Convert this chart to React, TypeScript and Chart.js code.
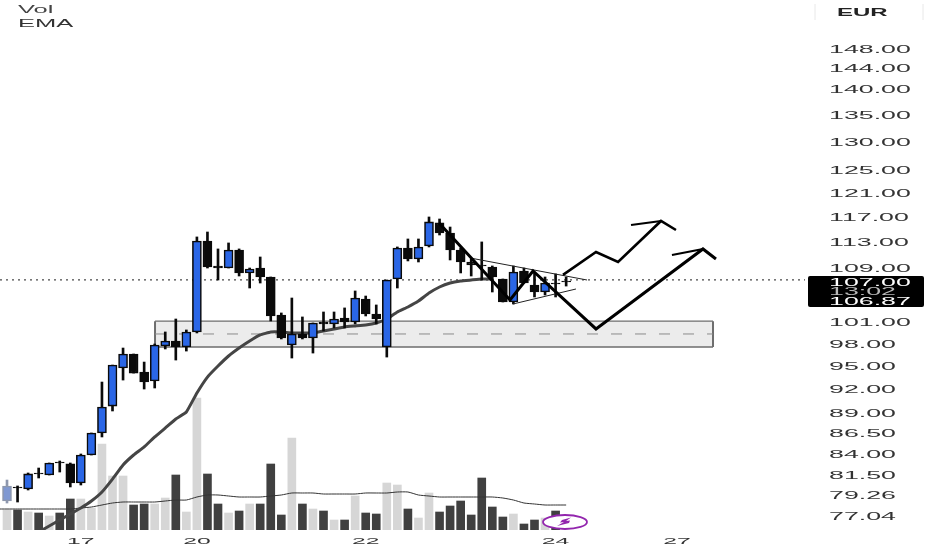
import React, { useEffect, useRef } from "react";
import { Chart, registerables } from "chart.js";

Chart.register(...registerables);

const candleHigh = [80.88,80.21,81.68,82.25,82.83,83.06,82.83,83.88,86.38,92.76,94.99,97.28,96.47,95.39,97.83,99.49,101.31,99.77,113.63,114.42,111.74,112.68,111.74,108.80,110.49,107.44,102.17,104.33,101.60,100.75,102.31,102.31,102.89,105.36,104.62,103.32,106.99,112.05,113.31,113.31,116.85,116.52,115.22,111.89,110.18,112.84,109.11,107.14,109.11,108.80,108.05,107.44,107.90,107.44];
const candleLow = [78.32,78.43,79.76,81.11,81.45,81.79,80.10,80.32,83.76,85.90,89.08,93.02,93.93,91.86,91.99,97.15,95.66,96.87,99.35,108.80,106.99,108.80,107.59,105.80,106.54,101.03,98.52,95.93,98.52,96.60,99.63,100.05,100.05,100.61,101.74,100.61,96.06,105.80,109.88,109.72,112.05,113.94,110.03,108.05,107.59,106.99,105.21,103.75,103.46,106.54,104.48,104.77,104.48,106.09];
const candleOpen = [78.54,80.10,79.87,81.68,81.45,82.95,82.72,80.54,83.76,86.38,89.69,94.60,96.47,94.06,92.89,97.56,98.24,97.42,99.49,112.99,109.11,108.80,111.58,108.05,108.80,107.44,101.88,97.69,99.21,98.66,100.89,100.61,101.45,100.89,104.18,102.02,97.42,107.14,111.89,110.18,112.21,115.88,114.26,111.58,109.72,109.26,108.96,107.14,103.75,108.35,106.24,105.21,106.54,106.84];
const candleClose = [80.21,79.98,81.57,81.57,82.83,82.83,80.54,83.76,86.38,89.57,94.99,96.47,93.93,92.76,97.69,98.24,97.42,99.49,112.99,108.96,108.80,111.58,108.05,108.65,107.44,101.74,98.66,99.21,98.66,100.75,100.61,101.31,100.89,104.33,102.02,101.31,106.99,111.89,110.18,112.05,116.04,114.26,111.58,109.72,109.26,109.11,107.44,103.75,108.20,106.54,105.21,106.54,106.39,106.69];
const volumes = [20,20,18,17,14,17,31,31,22,86,54,54,25,26,26,32,55,18,132,56,26,17,19,26,26,66,15,92,26,21,19,10,10,34,17,16,47,45,21,12,37,18,24,29,15,52,23,13,16,6,10,12,19];
const volumeAverage = [21,21,21,21,21,21,21,22,23,25,27,28,28,28,28,29,30,30,33,35,35,34,33,33,33,34,35,37,37,37,36,36,36,36,37,37,37,38,38,35,34,33,33,33,33,33,33,32,30,27,26,25,25,25];
const emaStart = 3;
const emaValues = [75.2,75.85,76.49,77.13,77.78,78.54,79.54,80.99,82.60,83.76,84.71,85.90,86.98,88.08,88.95,91.35,93.41,94.86,96.20,97.28,98.24,99.07,99.49,99.49,99.35,99.35,99.35,99.63,99.91,100.19,100.33,100.47,100.75,101.31,102.31,103.03,103.89,105.06,105.95,106.54,106.84,106.99,107.14,107.14];

const priceTicks = [148,144,140,135,130,125,121,117,113,109,101,98,95,92,89,86.5,84,81.5,79.26,77.04];
const dayTickPositions = [7,18,34,52,63.5];
const dayTickLabels = ["17","20","22","24","27"];

const lastPrice = 107;
const zoneTop = 101.0;
const zoneBottom = 97.42;
const zoneMid = 99.21;
const zoneFrom = 14.03;
const zoneTo = 66.92;

const pathMainX = [40.95,47.68,49.86,55.83,65.97,67.2];
const pathMainY = [115.88,104.04,108.35,99.91,111.74,110.18];
const pathUpperX = [52.7,55.83,57.92,61.99,63.41];
const pathUpperY = [107.75,111.27,109.72,116.20,114.74];
const headMainX = [63.03,65.97];
const headMainY = [110.80,111.74];
const headUpperX = [59.15,61.99];
const headUpperY = [115.54,116.20];
const wedgeUpperX = [43.89,54.98];
const wedgeUpperY = [110.34,106.99];
const wedgeLowerX = [47.96,53.93];
const wedgeLowerY = [103.46,105.65];

const xMin = -0.664;
const xMax = 75.64;
const priceMin = 75.42;
const priceMax = 158.28;
const volumeMax = 530;

const BLUE = "#2a66e6";
const INK = "#0a0a0a";

function stretchedLabels(scale: any, sx: number, dy: number) {
  return function () {
    const ctx = scale.ctx;
    for (const item of scale.getLabelItems()) {
      const [x, y] = item.options.translation;
      ctx.save();
      ctx.translate(x, y + dy);
      ctx.scale(sx, 1);
      ctx.font = item.font.string;
      ctx.fillStyle = item.options.color;
      ctx.textAlign = item.options.textAlign;
      ctx.textBaseline = item.options.textBaseline;
      ctx.fillText(item.label, 0, item.textOffset);
      ctx.restore();
    }
  };
}

function noPadding(scale: any) {
  scale.paddingLeft = 0;
  scale.paddingRight = 0;
  scale.paddingTop = 0;
  scale.paddingBottom = 0;
}

function wideText(ctx: CanvasRenderingContext2D, text: string, x: number, y: number, sx: number, font: string, color: string) {
  ctx.save();
  ctx.translate(x, y);
  ctx.scale(sx, 1);
  ctx.font = font;
  ctx.fillStyle = color;
  ctx.textAlign = "left";
  ctx.textBaseline = "middle";
  ctx.fillText(text, 0, 0);
  ctx.restore();
}

const pairs = (xs: number[], ys: number[]) => xs.map((x, i) => ({ x, y: ys[i] }));

const overlays = {
  id: "overlays",
  beforeDatasetsDraw(chart: any) {
    const { ctx, scales } = chart;
    const x0 = scales.x.getPixelForValue(zoneFrom);
    const x1 = scales.x.getPixelForValue(zoneTo);
    const y0 = scales.y.getPixelForValue(zoneTop);
    const y1 = scales.y.getPixelForValue(zoneBottom);
    ctx.save();
    ctx.fillStyle = "#ececec";
    ctx.fillRect(x0, y0, x1 - x0, y1 - y0);
    ctx.strokeStyle = "#6e6e6e";
    ctx.lineWidth = 1.3;
    ctx.beginPath();
    ctx.moveTo(x0, y0);
    ctx.lineTo(x1, y0);
    ctx.moveTo(x0, y1);
    ctx.lineTo(x1, y1);
    ctx.stroke();
    ctx.lineWidth = 2;
    ctx.beginPath();
    ctx.moveTo(x0, y0);
    ctx.lineTo(x0, y1);
    ctx.moveTo(x1, y0);
    ctx.lineTo(x1, y1);
    ctx.stroke();
    ctx.restore();
  },
  afterDatasetsDraw(chart: any) {
    const { ctx } = chart;
    ctx.save();
    const labelFont = "10px 'Liberation Sans'";
    wideText(ctx, "Vol", 18, 10.5, 2.55, labelFont, "#444444");
    wideText(ctx, "EMA", 18, 24.5, 2.55, labelFont, "#333333");

    ctx.strokeStyle = "#e8e8e8";
    ctx.lineWidth = 1;
    ctx.beginPath();
    ctx.moveTo(815, 4);
    ctx.lineTo(815, 20);
    ctx.moveTo(923, 4);
    ctx.lineTo(923, 20);
    ctx.stroke();
    wideText(ctx, "EUR", 837, 13, 2.4, "bold 10px 'Liberation Sans'", "#222222");

    ctx.fillStyle = "#000000";
    ctx.beginPath();
    ctx.roundRect(808, 276, 116, 31, 2);
    ctx.fill();
    const boxFont = "10.5px 'Liberation Sans'";
    wideText(ctx, "107.00", 829, 283, 2.55, boxFont, "#ffffff");
    wideText(ctx, "13:02", 829, 292, 2.55, boxFont, "#b8b8b8");
    wideText(ctx, "106.87", 829, 302, 2.55, boxFont, "#ffffff");

    ctx.fillStyle = "#ffffff";
    ctx.strokeStyle = "#9326ae";
    ctx.lineWidth = 1.8;
    ctx.beginPath();
    ctx.ellipse(565, 522, 22, 7, 0, 0, Math.PI * 2);
    ctx.fill();
    ctx.stroke();
    ctx.fillStyle = "#9326ae";
    ctx.beginPath();
    ctx.moveTo(571, 517.5);
    ctx.lineTo(562, 520);
    ctx.lineTo(560, 522.5);
    ctx.lineTo(564, 522);
    ctx.lineTo(557, 526);
    ctx.lineTo(569, 523);
    ctx.lineTo(570, 520.5);
    ctx.lineTo(566, 521);
    ctx.closePath();
    ctx.fill();
    ctx.restore();
  },
};

export default function App() {
  const ref = useRef<HTMLCanvasElement | null>(null);

  useEffect(() => {
    if (!ref.current) return;
    const indices = candleOpen.map((_, i) => i);
    const isUp = (i: number) => candleClose[i] >= candleOpen[i];
    const lineBase = {
      type: "line" as const,
      xAxisID: "x",
      yAxisID: "y",
      pointRadius: 0,
      tension: 0,
      fill: false,
    };
    const chart = new Chart(ref.current, {
      type: "bar",
      plugins: [overlays],
      data: {
        datasets: [
          {
            ...lineBase,
            label: "Last",
            data: [{ x: xMin, y: lastPrice }, { x: xMax, y: lastPrice }],
            borderColor: "#4a4a4a",
            borderWidth: 1.2,
            borderDash: [2, 4],
            order: 8,
          },
          {
            ...lineBase,
            label: "Zone mid",
            data: [{ x: zoneFrom, y: zoneMid }, { x: zoneTo, y: zoneMid }],
            borderColor: "#8a8a8a",
            borderWidth: 1,
            borderDash: [11, 13],
            order: 8,
          },
          {
            type: "bar" as const,
            label: "Vol",
            xAxisID: "x",
            yAxisID: "volume",
            grouped: false,
            barThickness: 8,
            data: volumes.map((v, i) => ({ x: i, y: v })),
            backgroundColor: volumes.map((_, i) => (isUp(i) ? "#d6d6d6" : "#404040")),
            borderWidth: 0,
            order: 9,
          },
          {
            ...lineBase,
            label: "Vol average",
            yAxisID: "volume",
            tension: 0.2,
            data: [{ x: -1, y: volumeAverage[0] }, ...volumeAverage.map((v, i) => ({ x: i, y: v }))],
            borderColor: "#333333",
            borderWidth: 1,
            order: 7,
          },
          {
            ...lineBase,
            label: "EMA",
            tension: 0.1,
            data: emaValues.map((v, i) => ({ x: emaStart + i, y: v })),
            borderColor: "#454545",
            borderWidth: 3,
            order: 6,
          },
          {
            type: "bar" as const,
            label: "Wick",
            xAxisID: "x",
            yAxisID: "y",
            grouped: false,
            barThickness: 2,
            data: indices.map((i) => ({ x: i, y: [candleLow[i], candleHigh[i]] })),
            backgroundColor: indices.map((i) => (i === 0 ? "#8d97ad" : INK)),
            borderWidth: 0,
            order: 5,
          },
          {
            type: "bar" as const,
            label: "Body",
            xAxisID: "x",
            yAxisID: "y",
            grouped: false,
            barThickness: 9,
            data: indices.map((i) => ({ x: i, y: [candleOpen[i], candleClose[i]] })),
            backgroundColor: indices.map((i) => (i === 0 ? "#7f98d2" : isUp(i) ? BLUE : INK)),
            borderColor: indices.map((i) => (i === 0 ? "#8d97ad" : INK)),
            borderWidth: 1.6,
            borderSkipped: false,
            order: 4,
          },
          { ...lineBase, label: "Wedge upper", data: pairs(wedgeUpperX, wedgeUpperY), borderColor: "#222222", borderWidth: 1, order: 3 },
          { ...lineBase, label: "Wedge lower", data: pairs(wedgeLowerX, wedgeLowerY), borderColor: "#222222", borderWidth: 1, order: 3 },
          { ...lineBase, label: "Path", data: pairs(pathMainX, pathMainY), borderColor: "#000000", borderWidth: 3, order: 2 },
          { ...lineBase, label: "Path upper", data: pairs(pathUpperX, pathUpperY), borderColor: "#000000", borderWidth: 2.6, order: 2 },
          { ...lineBase, label: "Head", data: pairs(headMainX, headMainY), borderColor: "#000000", borderWidth: 2, order: 2 },
          { ...lineBase, label: "Head upper", data: pairs(headUpperX, headUpperY), borderColor: "#000000", borderWidth: 2, order: 2 },
        ] as any,
      },
      options: {
        responsive: false,
        animation: false,
        devicePixelRatio: 1,
        layout: { padding: 0, autoPadding: false },
        plugins: { legend: { display: false }, tooltip: { enabled: false } },
        scales: {
          x: {
            type: "linear",
            offset: false,
            min: xMin,
            max: xMax,
            grid: { display: false, drawTicks: false },
            border: { display: false },
            afterFit(scale: any) {
              scale.height = 20;
              noPadding(scale);
              scale.drawLabels = stretchedLabels(scale, 2.6, 1);
            },
            afterBuildTicks(scale: any) {
              scale.ticks = dayTickPositions.map((value) => ({ value }));
            },
            ticks: {
              autoSkip: false,
              maxRotation: 0,
              padding: 5,
              color: "#333333",
              font: { family: "'Liberation Sans'", size: 9.5 },
              callback: (value: any) => dayTickLabels[dayTickPositions.indexOf(Number(value))] ?? "",
            },
          },
          y: {
            type: "logarithmic",
            position: "right",
            min: priceMin,
            max: priceMax,
            grid: { display: false, drawTicks: false },
            border: { display: false },
            afterFit(scale: any) {
              scale.width = 127;
              noPadding(scale);
              scale.drawLabels = stretchedLabels(scale, 2.55, 2);
            },
            afterBuildTicks(scale: any) {
              scale.ticks = priceTicks.map((value) => ({ value }));
            },
            ticks: {
              autoSkip: false,
              padding: 24,
              color: "#333333",
              font: { family: "'Liberation Sans'", size: 10.5 },
              callback: (value: any) => Number(value).toFixed(2),
            },
          },
          volume: {
            type: "linear",
            display: false,
            position: "left",
            min: 0,
            max: volumeMax,
          },
        },
      } as any,
    });
    return () => chart.destroy();
  }, []);

  return (
    <div style={{ position: "absolute", left: 0, top: 0, width: 932, height: 550, background: "#ffffff" }}>
      <canvas ref={ref} width={932} height={550} style={{ display: "block", filter: "blur(0.35px)" }} />
    </div>
  );
}
